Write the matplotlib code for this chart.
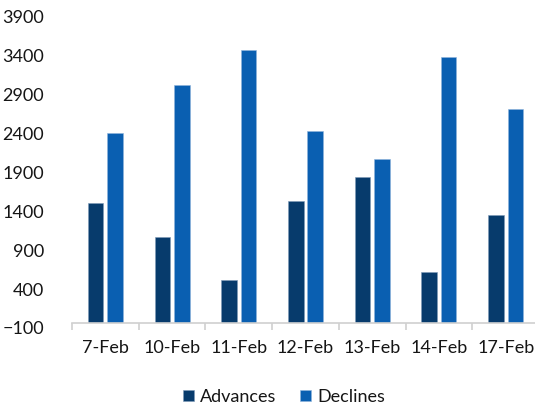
import numpy as np
import matplotlib
matplotlib.use('Agg')
import matplotlib.pyplot as plt
import matplotlib.transforms as mtransforms

# Daily market breadth - number of advancing and declining stocks
dates = ['7-Feb', '10-Feb', '11-Feb', '12-Feb', '13-Feb', '14-Feb', '17-Feb']
advances = [1442, 1009, 449, 1468, 1777, 552, 1288]
declines = [2338, 2955, 3413, 2368, 2008, 3315, 2647]

adv_color = '#073b6c'
dec_color = '#0a5fb1'
axis_color = '#d0d0d0'
text_color = '#151515'

plt.rcParams['font.family'] = ['Lato', 'DejaVu Sans']

fig = plt.figure(figsize=(5.35, 4.09), dpi=100)
ax = fig.add_axes([72/535, 86/409, 467/535, 311.2/409])

x = np.arange(len(dates))
base = -100
ax.bar(x - 0.145, np.array(advances) - base, bottom=base, width=0.234,
       color=adv_color, edgecolor='#7f9bb8', linewidth=0.4, label='Advances')
ax.bar(x + 0.145, np.array(declines) - base, bottom=base, width=0.234,
       color=dec_color, edgecolor='#8fb4dc', linewidth=0.4, label='Declines')

ax.set_xlim(-0.5, len(dates) - 0.5)
ax.set_ylim(-100, 3900)
ax.set_yticks(np.arange(-100, 3901, 500))
ax.set_xticks(x)
ax.set_xticklabels(dates)
ax.set_xticks(np.arange(-0.5, len(dates)), minor=True)

for side in ['top', 'right', 'left']:
    ax.spines[side].set_visible(False)
ax.spines['bottom'].set_color(axis_color)
ax.spines['bottom'].set_linewidth(1.2)

ax.tick_params(axis='y', length=0, pad=20, labelsize=13, labelcolor=text_color)
ax.tick_params(axis='x', which='major', length=0, pad=12, labelsize=13, labelcolor=text_color)
ax.tick_params(axis='x', which='minor', length=5, width=1.2, color=axis_color)

# y labels sit a little below their tick values
shift = mtransforms.ScaledTranslation(0, -5/100, fig.dpi_scale_trans)
for lbl in ax.get_yticklabels():
    lbl.set_transform(lbl.get_transform() + shift)

fig.legend(loc='center', bbox_to_anchor=(284/535, 1 - 397/409), ncol=2, frameon=False,
           fontsize=13, handlelength=0.6, handleheight=0.6, handletextpad=0.35,
           columnspacing=1.3, labelcolor=text_color)

fig.savefig('out.png', dpi=100)
